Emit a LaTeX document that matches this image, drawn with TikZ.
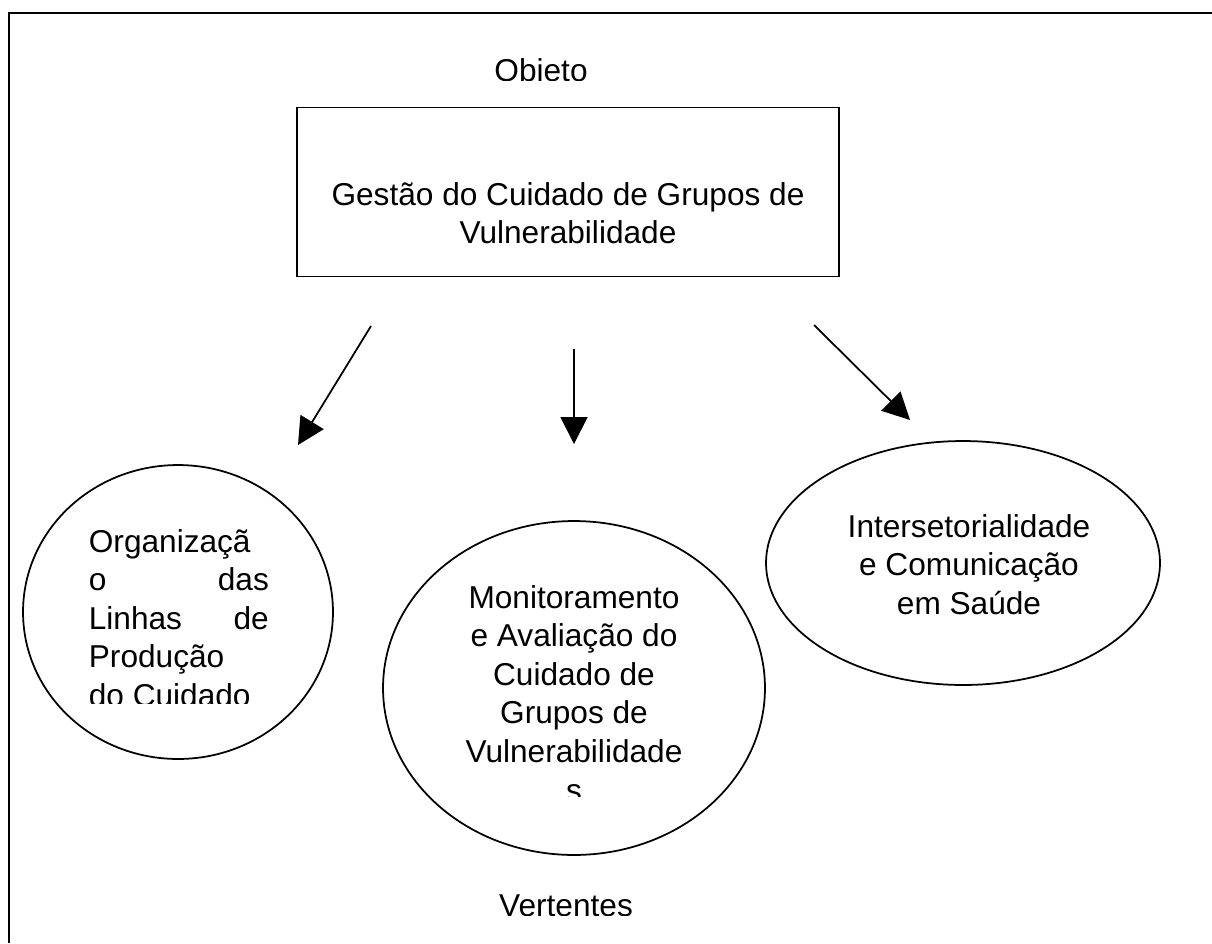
\documentclass[tikz,border=0pt]{standalone}
\usepackage{fontspec}
\setmainfont{Liberation Sans}
\usetikzlibrary{shapes,arrows.meta}

\begin{document}
\begin{tikzpicture}[x=0.02cm,y=-0.02cm,line width=1pt,
    every node/.style={font=\fontsize{18}{22}\selectfont,inner sep=0pt},
    caixa/.style={draw,minimum width=10.84cm,minimum height=3.38cm},
    vertente/.style={draw,ellipse},
    seta/.style={-{Triangle[length=5.4mm,width=5.4mm]}}]
  \useasboundingbox (0,0) rectangle (1212,943);
  % moldura
  \draw (9,943) -- (9,13) -- (1212,13);
  \begin{scope}
    \clip (400,30) rectangle (700,80);
    \node[anchor=base] (objeto) at (541,81) {Objeto};
  \end{scope}
  \node[caixa] (gestao) at (568,192) {};
  \node[anchor=base] (gestaotxt) at (568,205)
    {\parbox[t]{10cm}{\centering Gestão do Cuidado de Grupos de\\Vulnerabilidade}};
  % vertentes
  \node[vertente,minimum width=6.2cm,minimum height=5.88cm] (org) at (178,612) {};
  \node[vertente,minimum width=7.64cm,minimum height=6.68cm] (mon) at (574,688) {};
  \node[vertente,minimum width=7.88cm,minimum height=4.88cm] (int) at (963,563) {};
  \begin{scope}
    \clip (30,520) rectangle (330,703);
    \node[anchor=base west] (orgtxt) at (88,552)
      {\parbox[t]{3.6cm}{Organizaçã\\o\hfill das\\Linhas\hfill de\\Produção\\do Cuidado}};
  \end{scope}
  \begin{scope}
    \clip (390,560) rectangle (760,796);
    \node[anchor=base] (montxt) at (574,608)
      {\parbox[t]{5cm}{\centering Monitoramento\\e Avaliação do\\Cuidado de\\Grupos de\\Vulnerabilidade\\s}};
  \end{scope}
  \node[anchor=base] (inttxt) at (969,537)
    {\parbox[t]{5.6cm}{\centering Intersetorialidade\\e Comunicação\\em Saúde}};
  \begin{scope}
    \clip (450,860) rectangle (700,915);
    \node[anchor=base] (vertentes) at (566,916) {Vertentes};
  \end{scope}
  % setas
  \coordinate (g1) at (371,326); \coordinate (v1) at (298,445);
  \coordinate (g2) at (574,349); \coordinate (v2) at (574,444);
  \coordinate (g3) at (814,325); \coordinate (v3) at (910,420);
  \path (g1) edge[seta] (v1)
        (g2) edge[seta] (v2)
        (g3) edge[seta] (v3);
\end{tikzpicture}
\end{document}
